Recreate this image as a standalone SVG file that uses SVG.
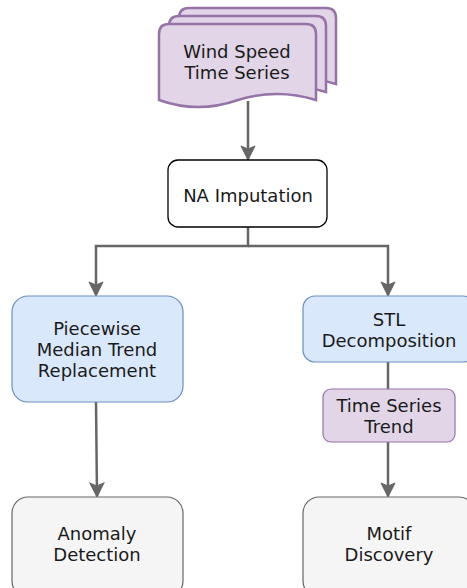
<svg xmlns="http://www.w3.org/2000/svg" width="467" height="588" viewBox="0 0 467 588">
<style>
text{font-family:"DejaVu Sans","Verdana",sans-serif;font-size:18px;fill:#1a1a1a;text-anchor:middle}
.doc{fill:#e1d5e7;stroke:#9673a6;stroke-width:2.5}
.white{fill:#ffffff;stroke:#000000;stroke-width:1.3}
.blue{fill:#dae8fc;stroke:#6c8ebf;stroke-width:1.2}
.purple{fill:#e1d5e7;stroke:#9673a6;stroke-width:1.2}
.gray{fill:#f5f5f5;stroke:#666666;stroke-width:1.2}
.conn{fill:none;stroke:#666666;stroke-width:2.5}
</style>
<defs>
<marker id="arr" markerUnits="userSpaceOnUse" markerWidth="16" markerHeight="16" viewBox="0 0 16 16" refX="14" refY="8" orient="auto">
<path d="M1,1 L15,8 L1,15 L4,8 z" fill="#666666" stroke="#666666" stroke-width="1"/>
</marker>
<path id="page" d="M0,10 Q0,0 10,0 L147,0 Q157,0 157,10 L157,76 Q118,64 79,76 Q39,90 0,76 Z"/>
</defs>
<g id="connectors">
<path class="conn" d="M248,101 L248,159" marker-end="url(#arr)"/>
<path class="conn" d="M248,227 L248,246 L96,246 L96,295" marker-end="url(#arr)"/>
<path class="conn" d="M248,246 L388,246 L388,295" marker-end="url(#arr)"/>
<path class="conn" d="M96,402 L97,496" marker-end="url(#arr)"/>
<path class="conn" d="M388,362 L388,389"/>
<path class="conn" d="M388,442 L388,496" marker-end="url(#arr)"/>
</g>
<g id="wind-speed">
<use href="#page" class="doc" x="179" y="8"/>
<use href="#page" class="doc" x="169" y="16"/>
<use href="#page" class="doc" x="159" y="24"/>
<text x="237" y="58">Wind Speed</text>
<text x="237" y="79">Time Series</text>
</g>
<g id="na-imputation">
<rect class="white" x="168" y="160" width="159" height="67" rx="10"/>
<text x="248" y="202">NA Imputation</text>
</g>
<g id="piecewise">
<rect class="blue" x="12" y="296" width="171" height="106" rx="16"/>
<text x="97" y="335">Piecewise</text>
<text x="97" y="356">Median Trend</text>
<text x="97" y="377">Replacement</text>
</g>
<g id="stl">
<rect class="blue" x="303" y="296" width="172" height="66" rx="12"/>
<text x="389" y="326">STL</text>
<text x="389" y="347">Decomposition</text>
</g>
<g id="ts-trend">
<rect class="purple" x="323" y="389" width="132" height="53" rx="8"/>
<text x="389" y="412">Time Series</text>
<text x="389" y="433">Trend</text>
</g>
<g id="anomaly">
<rect class="gray" x="12" y="497" width="171" height="100" rx="16"/>
<text x="97" y="540">Anomaly</text>
<text x="97" y="561">Detection</text>
</g>
<g id="motif">
<rect class="gray" x="303" y="497" width="172" height="100" rx="16"/>
<text x="389" y="540">Motif</text>
<text x="389" y="561">Discovery</text>
</g>
</svg>
